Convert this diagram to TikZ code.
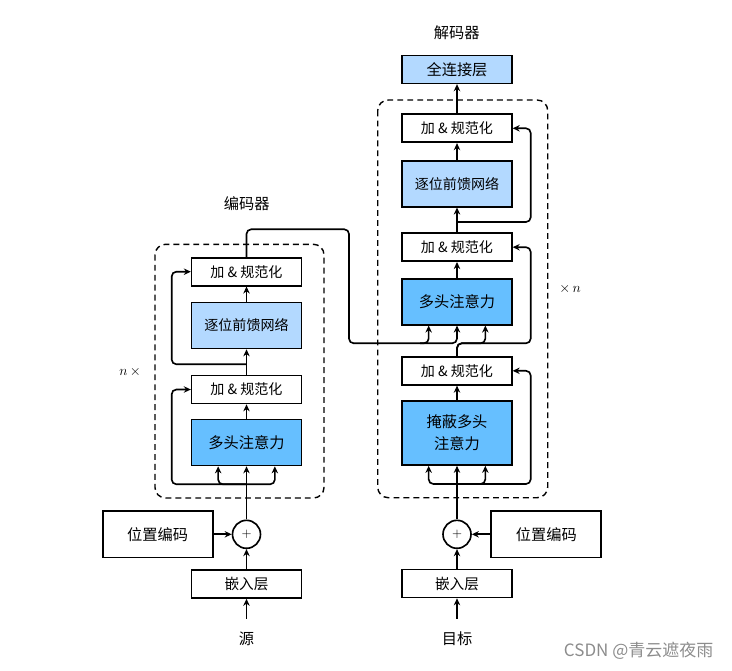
\documentclass[tikz,border=0pt]{standalone}
\usepackage{fontspec}
\newfontfamily\cjk{Noto Sans CJK SC}
\usetikzlibrary{arrows.meta}
\definecolor{ffnblue}{RGB}{179,217,255}
\definecolor{attnblue}{RGB}{102,191,255}

\begin{document}
\begin{tikzpicture}[x=0.03cm,y=-0.03cm,line width=1.4pt,>={Stealth[length=6pt,width=5.5pt]}]
\tikzstyle{blk}=[draw,inner sep=0,minimum width=3.29cm,font=\cjk\fontsize{12}{14}\selectfont]
\tikzstyle{addnorm}=[blk,fill=white,minimum height=0.84cm]
\tikzstyle{ffn}=[blk,fill=ffnblue,minimum height=1.38cm]
\tikzstyle{attn}=[blk,fill=attnblue,minimum height=1.38cm,font=\cjk\fontsize{13}{19}\selectfont]
\tikzstyle{plus}=[draw,circle,minimum size=0.84cm,inner sep=0,font=\fontsize{11}{11}\selectfont]
\tikzstyle{posenc}=[blk,minimum width=3.3cm,minimum height=1.39cm,font=\cjk\fontsize{13}{15}\selectfont]
\tikzstyle{lbl}=[inner sep=0,font=\cjk\fontsize{13}{15}\selectfont]
\tikzstyle{times}=[font=\fontsize{13}{15}\selectfont]
\tikzstyle{stack}=[line width=1.2pt,dash pattern=on 5pt off 3.5pt,rounded corners=9pt]
\tikzstyle{wire}=[->,rounded corners=4pt]
\useasboundingbox (0,0) rectangle (732,670);

% encoder
\draw[stack] (155,244.3) rectangle (324,498);
\node[lbl] (enc) at (246.7,204) {编码器};
\node[lbl] (src) at (246.5,638.3) {源};
\node[addnorm,font=\cjk\fontsize{12.5}{14}\selectfont] (emb_e) at (246.5,584) {嵌入层};
\node[plus] (add_e) at (246.5,534.3) {$+$};
\node[posenc] (pos_e) at (157.7,534.3) {位置编码};
\node[attn] (mha_e) at (246.5,442.5) {多头注意力};
\node[addnorm] (an1_e) at (246.5,389.5) {加 \& 规范化};
\node[ffn] (ffn_e) at (246.5,325.5) {逐位前馈网络};
\node[addnorm] (an2_e) at (246.5,271.7) {加 \& 规范化};
\node[times] (enc_n) at (130,371.7) {$n\,\times$};
\coordinate (e_res1) at (246.5,484.3);
\coordinate (e_res2) at (246.5,364.3);
\coordinate (e_out) at (246.5,229.3);

\draw[->,shorten <=10pt] (src) -- (emb_e);
\draw[->] (emb_e) -- (add_e);
\draw[->] (pos_e) -- (add_e);
\draw[->] (add_e) -- (mha_e);
\draw[wire] (e_res1) -| (171.7,389.5) -- (an1_e);
\foreach \s in {-0.85,0.85}{
\draw[wire] (e_res1) -| ([xshift=\s cm]mha_e.south);
}
\draw[->] (mha_e) -- (an1_e);
\draw[->] (an1_e) -- (ffn_e);
\draw[wire] (e_res2) -| (171.7,271.7) -- (an2_e);
\draw[->] (ffn_e) -- (an2_e);

% decoder
\draw[stack] (377.7,100) rectangle (547.7,497.7);
\node[lbl] (dec) at (456.7,32.7) {解码器};
\node[lbl] (tgt) at (457,638.3) {目标};
\node[addnorm,font=\cjk\fontsize{12.5}{14}\selectfont] (emb_d) at (457,583.5) {嵌入层};
\node[plus] (add_d) at (457,534.3) {$+$};
\node[posenc] (pos_d) at (546.3,534.3) {位置编码};
\node[attn,minimum height=1.92cm,align=center] (mmha_d) at (457,433) {掩蔽多头\\注意力};
\node[addnorm] (an1_d) at (457,370.8) {加 \& 规范化};
\node[attn] (mha_d) at (457,301.7) {多头注意力};
\node[addnorm] (an2_d) at (457,247.2) {加 \& 规范化};
\node[ffn] (ffn_d) at (457,183.7) {逐位前馈网络};
\node[addnorm] (an3_d) at (457,128.3) {加 \& 规范化};
\node[ffn,minimum height=0.83cm,font=\cjk\fontsize{13}{15}\selectfont] (fc_d) at (457,69.5) {全连接层};
\node[times] (dec_n) at (570,289.3) {$\times\, n$};
\coordinate (d_res1) at (457,484);
\coordinate (d_res2) at (457,343.3);
\coordinate (d_res3) at (457,222);
\coordinate (d_kv) at (420,343.3);

\draw[->,shorten <=10pt] (tgt) -- (emb_d);
\draw[->] (emb_d) -- (add_d);
\draw[->] (pos_d) -- (add_d);
\draw[->] (add_d) -- (mmha_d);
\foreach \s in {-0.85,0.85}{
\draw[wire] (d_res1) -| ([xshift=\s cm]mmha_d.south);
}
\draw[wire] (d_res1) -| (530.7,370.8) -- (an1_d);
\draw[->] (mmha_d) -- (an1_d);
\draw[wire] (an1_d) -- (d_res2) -| (530.7,247.2) -- (an2_d);
\draw[wire] (an1_d) -- (d_res2) -| ([xshift=0.85cm]mha_d.south);
% encoder output into cross attention
\draw[wire] (an2_e) -- (e_out) -| (349,343.3) -| (mha_d.south);
\draw[wire] (d_kv) -| ([xshift=-0.85cm]mha_d.south);
\draw[->] (mha_d) -- (an2_d);
\draw[->] (an2_d) -- (ffn_d);
\draw[wire] (d_res3) -| (530.7,128.3) -- (an3_d);
\draw[->] (ffn_d) -- (an3_d);
\draw[->] (an3_d) -- (fc_d);

\node[anchor=east,text=black!45,font=\cjk\fontsize{14.5}{16}\selectfont] (wm) at (718,651) {CSDN @青云遮夜雨};
\end{tikzpicture}
\end{document}
